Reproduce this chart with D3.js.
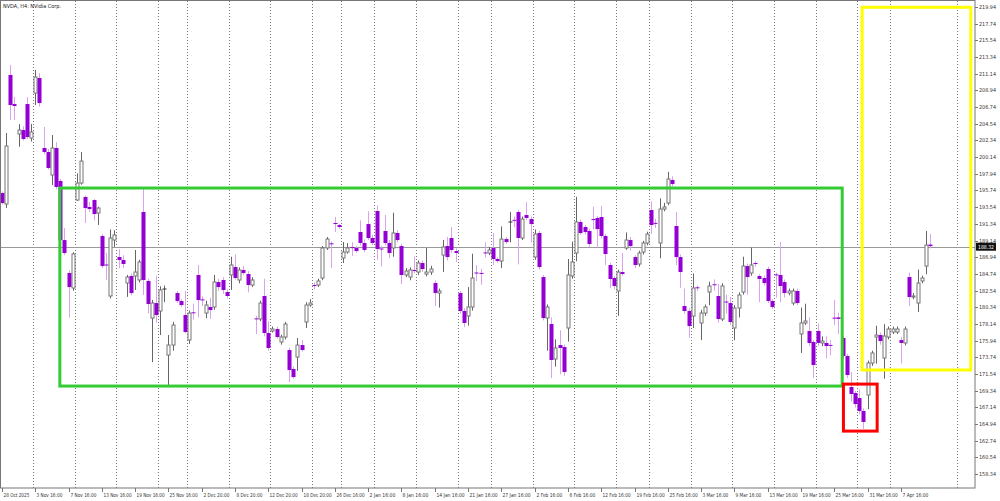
<!DOCTYPE html>
<html><head><meta charset="utf-8">
<script src="https://cdn.jsdelivr.net/npm/d3@7"></script>
<style>body{margin:0;background:#fff}svg{display:block;font-family:"DejaVu Sans Condensed","DejaVu Sans",sans-serif}</style>
</head><body><svg></svg>
<script>
var screen = {width: 1000, height: 501}

// candles: [open, high, low, close]
var candles = [
[195.40,195.6,193.9,194.08],[193.95,203.32,193.42,201.60],[210.97,212.29,205.03,207.01],[207.14,208.07,205.03,206.88],
[203.19,204.5,201.5,203.71],[203.71,204.2,202.3,202.53],[207.14,208.07,202.5,202.79],[202.66,204.5,202.2,203.45],
[208.59,211.63,207.01,210.70],[210.57,211.2,206.8,207.27],[201.34,204.11,200.5,200.81],[200.81,201.2,198.5,198.70],
[197.78,203.05,196.46,201.34],[201.34,202.1,195.9,196.20],[196.99,197.25,186.57,189.20],[189.20,190.79,187.2,187.49],
[184.85,185.2,179.0,183.00],[182.87,187.6,182.5,187.36],[194.48,198.0,194.35,196.72],[196.72,200.8,196.5,199.62],
[194.88,195.1,191.45,193.42],[193.56,194.2,192.9,193.29],[194.48,194.6,191.8,192.63],[192.77,193.6,191.18,193.42],
[189.73,190.0,185.5,185.77],[185.91,187.5,183.9,185.85],[181.82,190.6,181.5,189.47],[189.20,190.5,188.3,189.86],
[186.96,188.0,185.5,186.57],[186.57,187.2,185.5,186.04],[183.53,184.6,181.7,184.32],[184.46,184.8,181.9,182.21],
[184.46,187.89,182.61,184.98],[183.93,186.6,183.6,186.30],[192.90,196.06,181.95,183.93],[183.80,184.1,179.5,180.76],
[178.91,181.3,173.1,180.89],[180.89,184.5,178.3,179.31],[179.84,183.1,176.67,182.61],[182.61,183.2,181.0,182.74],
[174.03,176.67,169.81,175.35],[175.35,178.4,174.6,177.99],[182.21,182.5,180.9,181.16],[181.16,181.4,180.4,180.63],
[179.31,182.5,176.9,177.07],[176.01,179.9,175.5,179.57],[179.6,180.8,178.7,179.5],[184.59,185.9,179.0,181.29],
[181.3,181.8,180.5,181.2],[179.57,181.2,178.9,180.63],[180.37,181.6,178.8,179.97],[180.37,184.6,180.0,183.66],
[183.66,184.1,182.5,183.00],[183.93,184.3,182.1,182.61],[182.34,182.7,181.5,181.82],[184.59,187.0,182.61,185.91],
[185.64,187.3,184.0,184.19],[183.93,185.6,183.5,185.25],[185.25,185.8,184.6,184.85],[184.72,185.1,182.3,183.27],
[183.27,184.3,183.0,183.93],[178.8,179.2,176.8,178.7],[178.78,181.2,178.5,180.89],[181.82,184.1,176.5,176.94],
[176.94,178.5,174.6,174.96],[177.20,177.8,177.0,177.46],[177.46,177.8,176.2,176.41],[175.75,176.7,175.4,176.41],
[176.41,178.4,176.1,178.12],[174.69,175.0,170.48,172.06],[172.19,172.5,170.9,171.13],[173.77,176.28,171.93,175.35],
[175.35,176.0,174.5,174.69],[178.39,181.0,177.60,180.63],[180.63,181.4,180.4,180.89],[183.2,183.6,182.7,183.1],
[183.27,184.1,183.0,183.80],[184.19,188.4,183.9,188.15],[188.15,189.6,187.9,189.33],[188.7,189.0,185.51,188.6],
[191.45,192.24,190.26,191.31],[191.18,191.3,190.7,190.92],[186.83,188.94,186.17,187.62],[187.62,188.8,187.4,188.15],
[188.2,188.9,187.1,188.1],[188.15,188.4,187.5,187.75],[190.26,191.8,188.5,188.81],[188.81,189.3,187.6,187.89],
[191.31,193.0,189.2,189.47],[189.47,189.9,188.5,188.81],[193.03,193.8,186.6,188.02],[188.02,188.4,185.7,187.89],
[190.39,192.5,188.5,188.81],[188.81,189.2,186.8,187.49],[188.15,192.8,187.0,190.13],[190.13,190.5,188.9,189.20],
[188.41,188.7,183.4,184.59],[184.59,185.5,184.3,185.11],[184.32,185.6,183.9,185.25],[185.25,187.0,184.8,185.11],
[184.98,186.5,184.6,186.17],[186.17,186.5,185.0,185.38],[184.72,188.15,184.4,184.98],[184.98,185.8,184.6,185.38],
[183.53,183.9,180.5,182.21],[182.21,182.8,180.3,182.48],[187.22,189.2,185.0,188.28],[188.41,189.6,186.5,186.96],
[189.47,190.9,187.5,187.89],[187.75,188.1,186.3,187.49],[182.21,182.5,179.5,179.84],[179.84,180.2,177.7,178.26],
[179.18,183.0,177.9,180.37],[180.37,187.4,179.9,184.19],[184.85,185.9,183.8,184.72],[184.8,185.4,183.3,184.7],
[187.5,188.9,186.9,187.4],[187.49,188.3,187.2,187.89],[188.15,190.1,185.9,186.70],[186.70,186.9,186.2,186.43],
[186.43,191.0,185.5,189.33],[189.33,189.6,188.7,188.94],[191.45,192.9,188.9,191.58],[191.8,192.3,190.9,191.7],
[192.90,193.2,186.0,189.47],[189.47,192.3,189.2,191.97],[192.50,194.2,191.8,192.11],[191.97,192.3,188.9,191.31],
[186.96,190.6,186.6,189.99],[190.13,190.4,185.3,185.64],[184.32,184.6,178.6,178.91],[178.91,180.7,174.6,180.37],
[178.12,179.0,171.0,173.38],[173.51,176.1,172.5,174.96],[175.35,177.3,171.5,174.96],[175.09,175.4,171.3,171.80],
[177.60,186.7,175.8,184.59],[184.46,189.0,184.1,186.30],[187.49,194.9,186.4,191.58],[191.58,191.9,189.9,190.13],
[190.92,191.2,189.9,190.26],[190.39,190.7,188.3,188.68],[191.9,193.6,190.6,191.8],[192.11,192.4,188.2,190.65],
[192.24,193.7,189.4,189.73],[189.73,190.0,185.9,187.36],[185.91,186.2,182.9,184.06],[184.19,184.4,182.7,183.14],
[182.48,185.3,179.2,184.98],[184.98,187.5,184.5,184.72],[188.15,190.2,187.9,189.20],[189.20,189.6,187.8,188.41],
[186.96,187.2,185.5,185.91],[186.04,187.8,185.7,187.49],[187.62,189.1,187.3,188.81],[188.81,190.3,188.5,189.99],
[193.16,194.3,190.0,191.18],[191.4,192.0,190.8,191.3],[188.81,194.7,186.8,193.29],[193.29,194.1,193.0,193.56],
[194.08,198.2,193.8,197.25],[197.12,197.6,196.3,196.59],[191.05,192.9,185.9,186.96],[186.96,187.3,182.9,184.98],
[180.50,182.8,179.5,179.84],[179.84,180.2,176.3,177.86],[179.18,184.8,177.6,182.87],[182.9,183.2,182.5,182.8],
[178.26,180.0,176.0,179.57],[179.57,180.7,179.2,180.37],[182.34,183.7,180.6,183.14],[183.3,184.0,182.5,183.2],
[181.82,183.4,178.3,178.78],[178.78,183.5,178.5,183.14],[181.02,182.0,179.5,180.89],[180.89,181.7,178.0,178.39],
[177.60,180.6,176.0,180.23],[180.23,182.3,179.0,181.95],[182.34,187.0,182.0,185.77],[185.77,186.1,182.0,184.32],
[184.85,188.2,184.5,185.91],[186.1,186.4,185.7,186.0],[184.46,184.7,181.0,184.06],[184.19,184.5,183.2,183.53],
[185.38,185.7,180.9,181.16],[181.16,181.4,180.1,180.37],[184.6,184.9,181.6,184.5],[184.59,188.94,181.0,183.14],
[183.66,184.0,181.6,182.21],[182.21,182.8,181.9,182.48],[180.89,182.8,180.6,182.48],[182.48,182.8,180.6,180.89],
[176.81,180.3,174.3,178.26],[178.26,180.8,178.0,178.52],[177.20,179.0,175.2,175.62],[175.75,176.0,171.0,172.72],
[177.20,178.2,175.2,175.62],[175.62,176.5,175.2,175.88],[175.62,176.5,173.6,175.22],[175.3,176.0,174.0,175.2],
[178.9,181.29,177.99,178.8],[179.0,179.6,176.8,178.8],[176.28,176.6,173.5,173.90],[173.90,174.2,171.0,171.40],
[169.81,171.8,167.9,168.89],[169.02,169.3,167.1,167.57],[168.36,169.5,166.2,166.65],[166.65,167.0,164.3,165.20],
[168.76,173.3,166.9,172.98],[172.98,174.6,172.6,174.30],[176.41,177.9,172.9,176.67],[176.67,177.0,175.4,175.88],
[173.64,178.1,170.9,176.54],[176.41,177.8,176.1,177.46],[177.07,177.8,176.8,177.46],[177.07,177.8,176.8,177.46],
[176.01,176.4,172.9,175.62],[175.62,177.8,175.3,177.46],[184.32,184.9,180.5,181.68],[181.68,182.2,181.4,181.82],
[180.89,185.3,179.7,183.53],[183.80,184.5,183.5,184.19],[185.77,190.4,184.7,188.54],[188.6,190.0,188.1,188.4]
]

var priceTicks = d3.range(29).map(function(i){ return +(219.94 - i*2.2).toFixed(2) })
var dateLabels = ["28 Oct 2025","3 Nov 16:00","7 Nov 16:00","13 Nov 16:00","19 Nov 16:00","25 Nov 16:00","2 Dec 20:00",
  "8 Dec 20:00","12 Dec 20:00","18 Dec 20:00","26 Dec 16:00","2 Jan 16:00","8 Jan 16:00","14 Jan 16:00","21 Jan 16:00",
  "27 Jan 16:00","2 Feb 16:00","6 Feb 16:00","12 Feb 16:00","19 Feb 16:00","25 Feb 16:00","3 Mar 16:00","9 Mar 16:00",
  "13 Mar 16:00","19 Mar 16:00","25 Mar 16:00","31 Mar 16:00","7 Apr 16:00"]
var gridIdx = [7.5,17.5,27.5,37.5,44.5,54.5,64.5,74.5,81.5,89.5,99.5,109.5,117.5,127.5,137.5,147.5,155.5,165.5,175.5,185.5,195.5,205.5,213.5,229.5]
var lastPrice = 188.32
// boxes: [fromIdx, toIdx, highPrice, lowPrice, colour]
var boxes = [
  [13.9, 201.9, 196.06, 169.94, "#33cc33"],
  [206.7, 232.8, 219.9, 172.06, "#ffff00"],
  [202.2, 210.3, 170.2, 164.0, "#ff0000"]
]

var plot = {left: 1, top: 1, right: 975, bottom: 488}
var svg = d3.select("svg").attr("width", screen.width).attr("height", screen.height)

var x = d3.scaleLinear().domain([0, 223]).range([2, 930])
var y = d3.scaleLinear().domain([158.34, 219.94]).range([474, 7])

// dotted grid
svg.append("g").selectAll("line").data(gridIdx).enter().append("line")
  .attr("x1", function(d){ return Math.round(x(d)) + 0.5 }).attr("x2", function(d){ return Math.round(x(d)) + 0.5 })
  .attr("y1", plot.top).attr("y2", plot.bottom)
  .attr("stroke", "#777").attr("stroke-width", 1).attr("stroke-dasharray", "1,2")

// current price line
svg.append("line").attr("x1", plot.left).attr("x2", plot.right)
  .attr("y1", Math.round(y(lastPrice)) + 0.5).attr("y2", Math.round(y(lastPrice)) + 0.5)
  .attr("stroke", "#999").attr("stroke-width", 1)

// candles
var g = svg.append("g")
candles.forEach(function(c, i) {
  var up = c[3] >= c[0]
  var cx = Math.round(x(i)) + 0.5
  g.append("line").attr("x1", cx).attr("x2", cx).attr("y1", y(c[1])).attr("y2", y(c[2]))
    .attr("stroke", up ? "#666" : "#d9a3ef").attr("stroke-width", 1)
  var top = y(Math.max(c[0], c[3])), bot = y(Math.min(c[0], c[3]))
  if (bot - top < 1) {
    g.append("line").attr("x1", cx - 2).attr("x2", cx + 2).attr("y1", top).attr("y2", top)
      .attr("stroke", up ? "#333" : "#9400d3")
  } else if (up) {
    g.append("rect").attr("x", cx - 1.5).attr("y", top).attr("width", 3).attr("height", bot - top)
      .attr("fill", "#fff").attr("stroke", "#777").attr("stroke-width", 1)
  } else {
    g.append("rect").attr("x", cx - 2).attr("y", top).attr("width", 4).attr("height", bot - top)
      .attr("fill", "#9400d3")
  }
})

// boxes
svg.append("g").selectAll("rect").data(boxes).enter().append("rect")
  .attr("x", function(d){ return x(d[0]) }).attr("y", function(d){ return y(d[2]) })
  .attr("width", function(d){ return x(d[1]) - x(d[0]) })
  .attr("height", function(d){ return y(d[3]) - y(d[2]) })
  .attr("fill", "none").attr("stroke", function(d){ return d[4] }).attr("stroke-width", 3)

// frame
svg.append("rect").attr("x", 0.5).attr("y", 0.5).attr("width", plot.right - 0.5).attr("height", plot.bottom - 0.5)
  .attr("fill", "none").attr("stroke", "#777")

// price axis
var yAxis = svg.append("g")
yAxis.selectAll("line").data(priceTicks).enter().append("line")
  .attr("x1", plot.right).attr("x2", plot.right + 3)
  .attr("y1", function(d){ return Math.round(y(d)) + 0.5 }).attr("y2", function(d){ return Math.round(y(d)) + 0.5 })
  .attr("stroke", "#777")
yAxis.selectAll("text").data(priceTicks).enter().append("text")
  .attr("x", plot.right + 4).attr("y", function(d){ return y(d) + 2 })
  .attr("font-size", 5.5).attr("fill", "#333")
  .attr("textLength", 17).attr("lengthAdjust", "spacingAndGlyphs")
  .text(function(d){ return d.toFixed(2) })

svg.append("rect").attr("x", plot.right + 1).attr("y", y(lastPrice) - 4).attr("width", 20).attr("height", 8).attr("fill", "#111")
svg.append("text").attr("x", plot.right + 3).attr("y", y(lastPrice) + 2).attr("font-size", 5.5).attr("fill", "#fff")
  .attr("textLength", 16).attr("lengthAdjust", "spacingAndGlyphs").text(lastPrice.toFixed(2))

// date axis
var xAxis = svg.append("g")
dateLabels.forEach(function(d, k) {
  var tx = Math.round(x(k * 8)) + 0.5
  xAxis.append("line").attr("x1", tx).attr("x2", tx).attr("y1", plot.bottom).attr("y2", plot.bottom + 4).attr("stroke", "#777")
  xAxis.append("text").attr("x", tx + 1).attr("y", plot.bottom + 9).attr("font-size", 5.5).attr("fill", "#333")
    .attr("textLength", d.length * 2.35).attr("lengthAdjust", "spacingAndGlyphs").text(d)
})

svg.append("text").attr("x", 3).attr("y", 8).attr("font-size", 5.5).attr("fill", "#222")
  .attr("textLength", 58).attr("lengthAdjust", "spacingAndGlyphs").text("NVDA, H4:  NVidia Corp.")
</script></body></html>
